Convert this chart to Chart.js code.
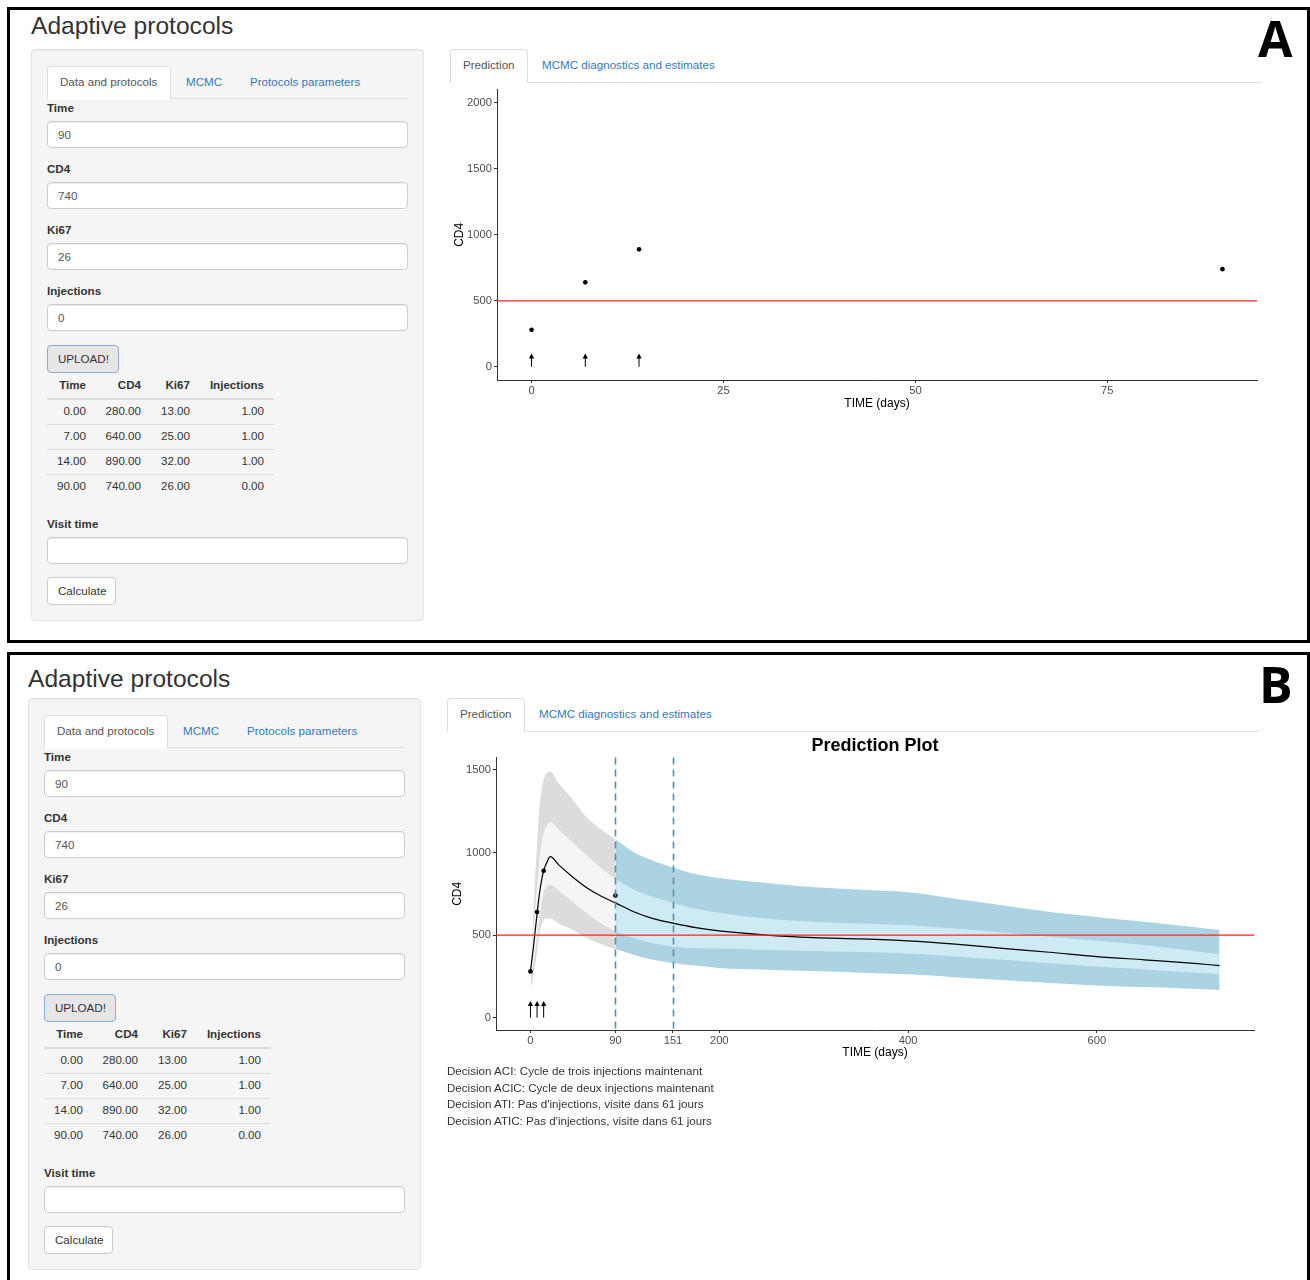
<!DOCTYPE html>
<html>
<head>
<meta charset="utf-8">
<title>Adaptive protocols</title>
<script src="https://cdn.jsdelivr.net/npm/chart.js@4.4.1/dist/chart.umd.min.js"></script>
<style>
  body { margin: 0; width: 1310px; height: 1280px; overflow: hidden; background: #fff; position: relative;
         font-family: "Liberation Sans", Arial, Helvetica, sans-serif; font-size: 11.6px; color: #333; }
  .abs { position: absolute; white-space: nowrap; }
  .frame { position: absolute; left: 7px; width: 1303px; border: 3px solid #000; box-sizing: border-box; }
  .panel { position: absolute; width: 1310px; height: 640px; }
  .letter { position: absolute; font-family: "Open Sans", "DejaVu Sans", sans-serif; font-weight: bold; font-size: 50px; line-height: 50px; color: #000; }
  .h2 { font-size: 24.6px; line-height: 28px; color: #333; }
  .well { left: 31px; top: 49px; width: 393px; height: 572px; background: #f5f5f5; border: 1px solid #e3e3e3;
          border-radius: 4px; box-sizing: border-box; box-shadow: inset 0 1px 1px rgba(0,0,0,.05); }
  .navline { height: 1px; background: #ddd; }
  .tab { background: #fff; border: 1px solid #ddd; border-bottom-color: #fff; border-radius: 4px 4px 0 0; box-sizing: border-box; }
  .tabtxt { color: #555; line-height: 14px; }
  .link { color: #337ab7; line-height: 14px; }
  .lbl { font-weight: bold; line-height: 14px; color: #333; }
  .inp { background: #fff; border: 1px solid #ccc; border-radius: 4px; box-sizing: border-box; color: #555;
         padding-left: 10px; line-height: 25px; box-shadow: inset 0 1px 1px rgba(0,0,0,.075); }
  .btn { border: 1px solid #ccc; border-radius: 4px; box-sizing: border-box; background: #fff; color: #333; padding-left: 10px; }
  .upload { background: #e6e6e6; border-color: #8eaad6; }
  .cell { width: 70px; text-align: right; line-height: 14px; }
  .th { font-weight: bold; }
  .hr { height: 1px; background: #ddd; }
  .decision { left: 447px; top: 1063px; line-height: 16.6px; color: #333; }
  canvas { position: absolute; }
</style>
</head>
<body>
<div class="frame" style="top:7px;height:636px"></div>
<div class="frame" style="top:652px;height:700px"></div>
<div class="letter" style="left:1258px;top:13px">A</div>
<div class="letter" style="left:1259px;top:659px">B</div>

<div class="panel" id="panelA" style="left:0;top:0"></div>
<div class="panel" id="panelB" style="left:-3px;top:649px"></div>

<canvas id="chartA" width="830" height="338" style="left:440px;top:81px"></canvas>
<canvas id="chartB" width="830" height="335" style="left:440px;top:730px"></canvas>
<div class="abs decision" id="decisions"></div>

<script>
// observed visits (uploaded table)
const obsTime = [0, 7, 14, 90];
const obsCD4 = [280, 640, 890, 740];
const obsKi67 = [13, 25, 32, 26];
const obsInj = [1, 1, 1, 0];

const cd4Threshold = 500;
const visitTimes = [90, 151];
const arrowLen = 100;

// axes
const ticksAx = [0, 25, 50, 75];
const ticksAy = [0, 500, 1000, 1500, 2000];
const ticksBx = [0, 90, 151, 200, 400, 600];
const ticksBy = [0, 500, 1000, 1500];

const predDays    = [0, 3, 7, 10, 14, 17, 21, 30, 45, 60, 75, 90, 110, 130, 151, 175, 200, 250, 300, 350, 400, 450, 500, 550, 600, 650, 700, 730];
const predMedian  = [280, 420, 630, 770, 890, 935, 975, 925, 850, 785, 735, 695, 640, 600, 572, 545, 525, 500, 485, 477, 465, 445, 420, 396, 370, 350, 330, 315];
const predInnerHi = [320, 520, 800, 980, 1120, 1160, 1185, 1140, 1060, 980, 905, 840, 775, 730, 695, 660, 635, 600, 580, 570, 560, 540, 515, 490, 465, 440, 405, 384];
const predInnerLo = [240, 330, 480, 620, 760, 790, 805, 770, 700, 630, 570, 520, 480, 450, 430, 420, 418, 410, 403, 397, 388, 370, 350, 330, 310, 292, 274, 264];
const predOuterHi = [180, 620, 1050, 1300, 1440, 1480, 1490, 1420, 1320, 1210, 1140, 1080, 1000, 950, 910, 870, 845, 815, 790, 775, 760, 720, 680, 640, 610, 580, 550, 530];
const predOuterLo = [170, 250, 400, 520, 590, 600, 600, 570, 530, 480, 445, 415, 380, 350, 330, 315, 300, 290, 282, 272, 262, 245, 228, 210, 195, 185, 175, 168];

const decisions = [
  "Decision ACI: Cycle de trois injections maintenant",
  "Decision ACIC: Cycle de deux injections maintenant",
  "Decision ATI: Pas d'injections, visite dans 61 jours",
  "Decision ATIC: Pas d'injections, visite dans 61 jours"
];

const fieldLabels = ["Time", "CD4", "Ki67", "Injections"];
const tableHeads = ["Time", "CD4", "Ki67", "Injections"];

// build the left "shiny" sidebar
function buildPanel(panel, titleTop) {
  const p = [];
  p.push(`<div class="abs h2" style="left:31px;top:${titleTop}px">Adaptive protocols</div>`);
  p.push(`<div class="abs well"></div>`);
  p.push(`<div class="abs navline" style="left:47px;top:98px;width:361px"></div>`);
  p.push(`<div class="abs tab" style="left:47px;top:66px;width:124px;height:34px"></div>`);
  p.push(`<div class="abs tabtxt" style="left:60px;top:75px">Data and protocols</div>`);
  p.push(`<div class="abs link" style="left:186px;top:75px">MCMC</div>`);
  p.push(`<div class="abs link" style="left:250px;top:75px">Protocols parameters</div>`);

  const last = obsTime.length - 1;
  const lastVals = [obsTime[last], obsCD4[last], obsKi67[last], obsInj[last]];
  fieldLabels.forEach((lab, i) => {
    p.push(`<div class="abs lbl" style="left:47px;top:${101 + i * 61}px">${lab}</div>`);
    p.push(`<div class="abs inp" style="left:47px;top:${121 + i * 61}px;width:361px;height:27px">${lastVals[i]}</div>`);
  });

  p.push(`<div class="abs btn upload" style="left:47px;top:345px;width:72px;height:28px;line-height:26px">UPLOAD!</div>`);

  // table
  const colRight = [86, 141, 190, 264];
  tableHeads.forEach((h, c) => {
    p.push(`<div class="abs cell th" style="left:${colRight[c] - 70}px;top:378px">${h}</div>`);
  });
  p.push(`<div class="abs hr" style="left:47px;top:398px;width:227px;height:2px"></div>`);
  const cols = [obsTime, obsCD4, obsKi67, obsInj];
  obsTime.forEach((_, r) => {
    cols.forEach((arr, c) => {
      p.push(`<div class="abs cell" style="left:${colRight[c] - 70}px;top:${404 + r * 25}px">${arr[r].toFixed(2)}</div>`);
    });
    if (r < obsTime.length - 1) p.push(`<div class="abs hr" style="left:47px;top:${424 + r * 25}px;width:227px"></div>`);
  });

  p.push(`<div class="abs lbl" style="left:47px;top:517px">Visit time</div>`);
  p.push(`<div class="abs inp" style="left:47px;top:537px;width:361px;height:27px"></div>`);
  p.push(`<div class="abs btn" style="left:47px;top:577px;width:69px;height:28px;line-height:26px">Calculate</div>`);

  // right tabs
  p.push(`<div class="abs navline" style="left:450px;top:82px;width:812px"></div>`);
  p.push(`<div class="abs tab" style="left:450px;top:49px;width:78px;height:34px"></div>`);
  p.push(`<div class="abs tabtxt" style="left:463px;top:58px">Prediction</div>`);
  p.push(`<div class="abs link" style="left:542px;top:58px">MCMC diagnostics and estimates</div>`);
  panel.innerHTML = p.join("");
}

buildPanel(document.getElementById("panelA"), 12);
buildPanel(document.getElementById("panelB"), 16);
document.getElementById("decisions").innerHTML = decisions.join("<br>");

Chart.defaults.font.family = '"Liberation Sans", Arial, sans-serif';
Chart.defaults.font.size = 11.2;

const injectionDays = obsTime.filter((t, i) => obsInj[i] === 1);

// threshold, visit lines and injection arrows
const overlayPlugin = {
  id: "overlay",
  afterDatasetsDraw(chart, args, opts) {
    const { ctx, chartArea: a, scales: { x, y } } = chart;
    ctx.save();
    (opts.vlines || []).forEach(v => {
      const px = Math.round(x.getPixelForValue(v)) + 0.5;
      ctx.strokeStyle = "#5b8ea6";
      ctx.lineWidth = 1.6;
      ctx.setLineDash([7, 5]);
      ctx.beginPath();
      ctx.moveTo(px, a.top);
      ctx.lineTo(px, a.bottom);
      ctx.stroke();
    });
    ctx.setLineDash([]);
    const py = y.getPixelForValue(cd4Threshold);
    ctx.strokeStyle = "#ff2020";
    ctx.lineWidth = 1.2;
    ctx.beginPath();
    ctx.moveTo(a.left, py);
    ctx.lineTo(a.right, py);
    ctx.stroke();

    ctx.strokeStyle = "#000";
    ctx.fillStyle = "#000";
    ctx.lineWidth = 1;
    injectionDays.forEach(d => {
      const px = x.getPixelForValue(d);
      const y0 = y.getPixelForValue(0);
      const y1 = y.getPixelForValue(arrowLen);
      ctx.beginPath();
      ctx.moveTo(px, y0);
      ctx.lineTo(px, y1 + 3);
      ctx.stroke();
      ctx.beginPath();
      ctx.moveTo(px, y1);
      ctx.lineTo(px - 2.6, y1 + 5);
      ctx.lineTo(px + 2.6, y1 + 5);
      ctx.closePath();
      ctx.fill();
    });
    ctx.restore();
  }
};

function makeAxis(min, max, tickValues, title, titlePad, size, isX) {
  return {
    type: "linear", min: min, max: max,
    afterBuildTicks: s => { s.ticks = tickValues.map(v => ({ value: v })); },
    afterFit: s => { if (isX) s.height = size; else s.width = size; },
    grid: { drawOnChartArea: false, drawTicks: true, tickLength: 3, color: "#333" },
    border: { display: true, color: "#333", width: 1 },
    ticks: { color: "#4d4d4d", padding: isX ? 1 : 2, autoSkip: false, maxRotation: 0, callback: v => String(v) },
    title: { display: true, text: title, color: "#000", font: { size: 12 }, padding: titlePad }
  };
}

function pts(xs, ys) {
  return xs.map((v, i) => ({ x: v, y: ys[i] }));
}

const obsPoints = {
  label: "obs", data: pts(obsTime, obsCD4), showLine: false,
  pointRadius: 2.3, pointBackgroundColor: "#000", pointBorderWidth: 0, order: 0
};

// Chart A: data only
new Chart(document.getElementById("chartA"), {
  type: "line",
  data: { datasets: [obsPoints] },
  options: {
    responsive: false, animation: false, devicePixelRatio: 1,
    layout: { padding: { left: 0, right: 13, top: 0, bottom: 0 } },
    plugins: { legend: { display: false }, tooltip: { enabled: false }, overlay: { vlines: [] } },
    scales: {
      x: makeAxis(-4.5, 94.5, ticksAx, "TIME (days)", { top: 0, bottom: 8 }, 39, true),
      y: makeAxis(-100, 2100, ticksAy, "CD4", { top: 12, bottom: 0 }, 57, false)
    }
  },
  plugins: [overlayPlugin]
});

// Chart B: prediction bands, split at the current visit time
const split = predDays.indexOf(visitTimes[0]);
function part(arr, pre) { return pre ? arr.slice(0, split + 1) : arr.slice(split); }
const daysPre = part(predDays, true), daysPost = part(predDays, false);

function edge(xs, ys, fillTarget, color, order) {
  return {
    data: pts(xs, ys), borderWidth: 0, borderColor: "rgba(0,0,0,0)", pointRadius: 0,
    fill: fillTarget === null ? false : fillTarget, backgroundColor: color,
    cubicInterpolationMode: "monotone", order: order
  };
}

new Chart(document.getElementById("chartB"), {
  type: "line",
  data: {
    datasets: [
      obsPoints,
      { data: pts(predDays, predMedian), borderColor: "#000", borderWidth: 1.2, pointRadius: 0,
        cubicInterpolationMode: "monotone", fill: false, order: 1 },
      edge(daysPre, part(predInnerHi, true), 3, "#f5f5f5", 2),
      edge(daysPre, part(predInnerLo, true), null, "#f5f5f5", 2),
      edge(daysPost, part(predInnerHi, false), 5, "#cdeaf5", 2),
      edge(daysPost, part(predInnerLo, false), null, "#cdeaf5", 2),
      edge(daysPre, part(predOuterHi, true), 7, "#dcdcdc", 3),
      edge(daysPre, part(predOuterLo, true), null, "#dcdcdc", 3),
      edge(daysPost, part(predOuterHi, false), 9, "#abd3e1", 3),
      edge(daysPost, part(predOuterLo, false), null, "#abd3e1", 3)
    ]
  },
  options: {
    responsive: false, animation: false, devicePixelRatio: 1,
    layout: { padding: { left: 0, right: 16, top: 0, bottom: 0 } },
    plugins: {
      legend: { display: false }, tooltip: { enabled: false },
      title: { display: true, text: "Prediction Plot", color: "#000", fullSize: false,
               font: { size: 18, weight: "bold" }, padding: { top: 5, bottom: 1 } },
      overlay: { vlines: visitTimes }
    },
    scales: {
      x: makeAxis(-36.5, 766.5, ticksBx, "TIME (days)", { top: 0, bottom: 5 }, 35, true),
      y: makeAxis(-75, 1575, ticksBy, "CD4", { top: 10, bottom: 0 }, 56, false)
    }
  },
  plugins: [overlayPlugin]
});
</script>
</body>
</html>
